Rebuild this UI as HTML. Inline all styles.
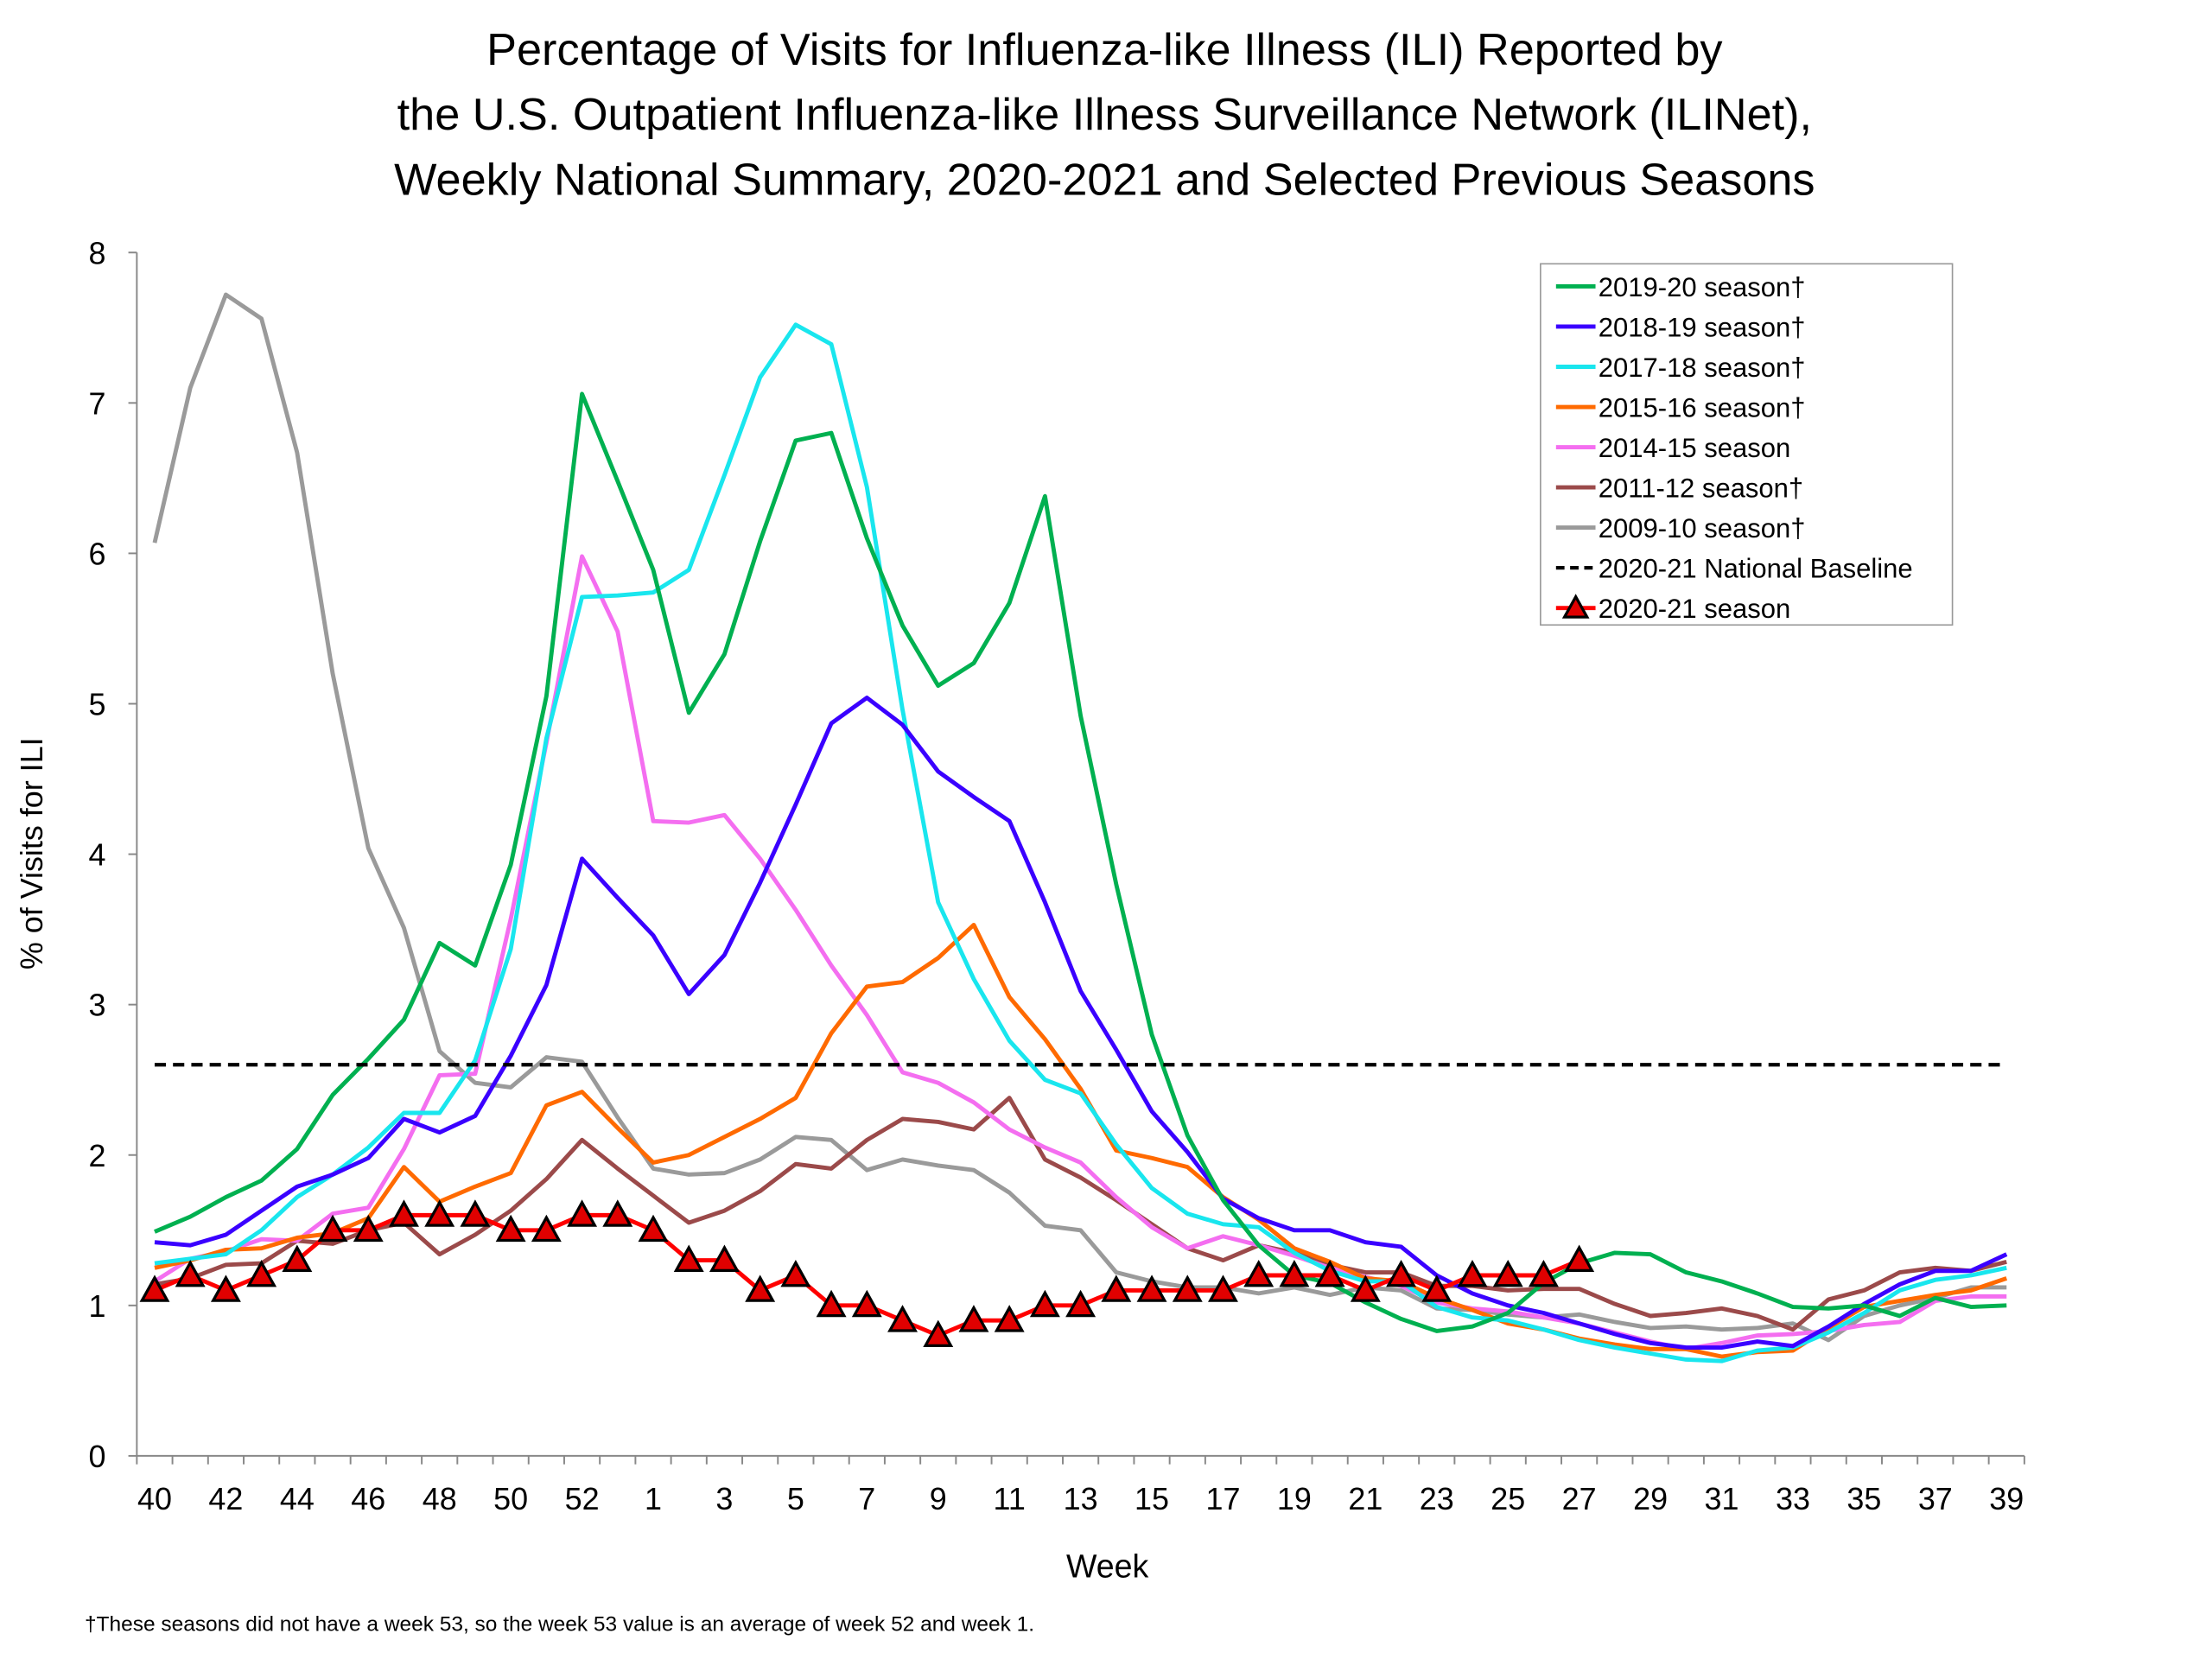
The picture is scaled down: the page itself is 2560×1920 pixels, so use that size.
<!DOCTYPE html>
<html><head><meta charset="utf-8"><style>
html,body{margin:0;padding:0;background:#fff;}
svg{display:block;font-family:"Liberation Sans",Arial,sans-serif;}
</style></head><body>
<svg id="chart" width="2560" height="1920" viewBox="0 0 1568 1176" xmlns="http://www.w3.org/2000/svg">
<rect width="1568" height="1176" fill="#fff"/>
<g font-size="32" text-anchor="middle" fill="#000">
<text x="783" y="46">Percentage of Visits for Influenza-like Illness (ILI) Reported by</text>
<text x="783" y="92">the U.S. Outpatient Influenza-like Illness Surveillance Network (ILINet),</text>
<text x="783" y="138">Weekly National Summary, 2020-2021 and Selected Previous Seasons</text>
</g>
<g id="axes"></g>
<g id="series"></g>
<g id="legend"></g>
<text x="0" y="0" font-size="22" text-anchor="middle" transform="translate(30,605) rotate(-90)">% of Visits for ILI</text>
<text x="785" y="1118" font-size="23" text-anchor="middle">Week</text>
<text x="60" y="1156" font-size="15">†These seasons did not have a week 53, so the week 53 value is an average of week 52 and week 1.</text>
</svg>
<script>
const weeks = [40,41,42,43,44,45,46,47,48,49,50,51,52,53,1,2,3,4,5,6,7,8,9,10,11,12,13,14,15,16,17,18,19,20,21,22,23,24,25,26,27,28,29,30,31,32,33,34,35,36,37,38,39];
const yTicks = [0,1,2,3,4,5,6,7,8];
const baseline = 2.6;
const s1920 = [1.49,1.59,1.72,1.83,2.04,2.4,2.64,2.9,3.41,3.26,3.93,5.05,7.06,6.48,5.89,4.94,5.33,6.08,6.75,6.8,6.1,5.52,5.12,5.27,5.67,6.38,4.92,3.8,2.8,2.13,1.7,1.4,1.2,1.15,1.02,0.91,0.83,0.86,0.95,1.15,1.28,1.35,1.34,1.22,1.16,1.08,0.99,0.98,1.0,0.93,1.05,0.99,1.0];
const s1819 = [1.42,1.40,1.47,1.63,1.79,1.87,1.98,2.24,2.15,2.26,2.66,3.13,3.97,3.71,3.46,3.07,3.33,3.81,4.33,4.87,5.04,4.86,4.55,4.38,4.22,3.68,3.09,2.7,2.29,2.02,1.71,1.58,1.5,1.5,1.42,1.39,1.2,1.08,1.0,0.95,0.88,0.81,0.75,0.72,0.72,0.76,0.73,0.86,1.01,1.14,1.23,1.23,1.34];
const s1718 = [1.28,1.31,1.34,1.5,1.72,1.87,2.05,2.28,2.28,2.63,3.37,4.77,5.71,5.72,5.74,5.89,6.52,7.17,7.52,7.39,6.44,4.96,3.68,3.17,2.76,2.5,2.41,2.07,1.78,1.61,1.54,1.52,1.35,1.23,1.16,1.16,0.99,0.92,0.9,0.84,0.77,0.72,0.68,0.64,0.63,0.7,0.72,0.82,0.95,1.1,1.17,1.2,1.25];
const s1516 = [1.25,1.3,1.37,1.38,1.45,1.48,1.58,1.92,1.69,1.79,1.88,2.33,2.42,2.18,1.95,2.0,2.12,2.24,2.38,2.81,3.12,3.15,3.31,3.53,3.05,2.77,2.44,2.03,1.98,1.92,1.72,1.57,1.38,1.29,1.18,1.16,1.05,0.97,0.88,0.84,0.78,0.74,0.71,0.71,0.66,0.69,0.7,0.85,0.99,1.03,1.07,1.1,1.18];
const s1415 = [1.16,1.31,1.36,1.44,1.43,1.61,1.65,2.04,2.53,2.54,3.57,4.74,5.98,5.48,4.22,4.21,4.26,3.97,3.63,3.26,2.93,2.55,2.48,2.35,2.17,2.05,1.95,1.72,1.52,1.38,1.46,1.4,1.33,1.25,1.19,1.13,1.02,0.98,0.96,0.92,0.88,0.82,0.76,0.71,0.75,0.8,0.81,0.83,0.87,0.89,1.03,1.06,1.06];
const s1112 = [1.14,1.18,1.27,1.28,1.43,1.41,1.5,1.55,1.34,1.47,1.63,1.84,2.1,1.91,1.73,1.55,1.63,1.76,1.94,1.91,2.1,2.24,2.22,2.17,2.38,1.97,1.85,1.7,1.54,1.38,1.3,1.4,1.35,1.27,1.22,1.22,1.13,1.13,1.1,1.11,1.11,1.01,0.93,0.95,0.98,0.93,0.84,1.04,1.1,1.22,1.25,1.23,1.29];
const s0910 = [6.07,7.1,7.72,7.56,6.67,5.2,4.04,3.51,2.69,2.48,2.45,2.65,2.62,2.25,1.91,1.87,1.88,1.97,2.12,2.1,1.9,1.97,1.93,1.9,1.75,1.53,1.5,1.22,1.16,1.12,1.12,1.08,1.12,1.07,1.12,1.1,0.98,0.97,0.94,0.92,0.94,0.89,0.85,0.86,0.84,0.85,0.88,0.77,0.93,1.0,1.05,1.12,1.12];
const s2021 = [1.1,1.2,1.1,1.2,1.3,1.5,1.5,1.6,1.6,1.6,1.5,1.5,1.6,1.6,1.5,1.3,1.3,1.1,1.2,1.0,1.0,0.9,0.8,0.9,0.9,1.0,1.0,1.1,1.1,1.1,1.1,1.2,1.2,1.2,1.1,1.2,1.1,1.2,1.2,1.2,1.3];

const NS='http://www.w3.org/2000/svg';
const L=97,R=1435,T=179,B=1032;
const xs=i=>L+(i+0.5)*(R-L)/weeks.length;
const ys=v=>B-v*(B-T)/8;
function mk(tag,attrs,parent){const e=document.createElementNS(NS,tag);for(const k in attrs)e.setAttribute(k,attrs[k]);parent.appendChild(e);return e;}
const axes=document.getElementById('axes');
const ax=mk('line',{x1:L,y1:T,x2:L,y2:B,stroke:'#888','stroke-width':1.2},axes);


const bx=mk('line',{x1:L,y1:B,x2:R,y2:B,stroke:'#888','stroke-width':1.2},axes);


yTicks.forEach(v=>{
  mk('line',{x1:L-6,y1:ys(v),x2:L,y2:ys(v),stroke:'#888','stroke-width':1.2},axes);
  const t=mk('text',{x:L-22,y:ys(v)+8,'font-size':22,'text-anchor':'end'},axes);
  t.textContent=v;
  
  
});
for(let i=0;i<=weeks.length;i++){
  const x=L+i*(R-L)/weeks.length;
  mk('line',{x1:x,y1:B,x2:x,y2:B+6,stroke:'#888','stroke-width':1.2},axes);
}
weeks.forEach((w,i)=>{
  if(i%2===0){
    const t=mk('text',{x:xs(i),y:1070,'font-size':22,'text-anchor':'middle'},axes);
    t.textContent=w;
    
    
  }
});
const ser=document.getElementById('series');
const defs=[
 [s0910,'#9a9a9a','season-2009-10','2009-10 season†'],
 [s1112,'#9b4a4a','season-2011-12','2011-12 season†'],
 [s1415,'#f46ef0','season-2014-15','2014-15 season'],
 [s1516,'#ff6a00','season-2015-16','2015-16 season†'],
 [s1718,'#19e6ee','season-2017-18','2017-18 season†'],
 [s1819,'#3a00ff','season-2018-19','2018-19 season†'],
 [s1920,'#00b050','season-2019-20','2019-20 season†']
];
defs.forEach(d=>{
  const p=mk('polyline',{points:d[0].map((v,i)=>xs(i)+','+ys(v)).join(' '),fill:'none',stroke:d[1],'stroke-width':3,'stroke-linejoin':'round'},ser);
  
  
});
const bl=mk('line',{x1:xs(0),y1:ys(baseline),x2:xs(weeks.length-1),y2:ys(baseline),stroke:'#000','stroke-width':2.6,'stroke-dasharray':'8,5'},ser);


const rl=mk('polyline',{points:s2021.map((v,i)=>xs(i)+','+ys(v)).join(' '),fill:'none',stroke:'#ff0000','stroke-width':3},ser);


const tri=(x,y,h)=>`${x},${y-h} ${x+h},${y+h*0.8} ${x-h},${y+h*0.8}`;
s2021.forEach((v,i)=>{
  const m=mk('polygon',{points:tri(xs(i),ys(v),9),fill:'#e00000',stroke:'#000','stroke-width':2},ser);
  
  
});
const lg=document.getElementById('legend');
const box=mk('rect',{x:1092,y:187,width:292,height:256,fill:'#fff',stroke:'#999','stroke-width':1},lg);


const order=[defs[6],defs[5],defs[4],defs[3],defs[2],defs[1],defs[0]];
order.forEach((d,k)=>{
  const y=203+k*28.5;
  mk('line',{x1:1103,y1:y,x2:1131,y2:y,stroke:d[1],'stroke-width':3},lg);
  const t=mk('text',{x:1133,y:y+7,'font-size':19},lg);
  t.textContent=d[3];
  
  
});
let y=203+7*28.5;
mk('line',{x1:1103,y1:y,x2:1131,y2:y,stroke:'#000','stroke-width':2.6,'stroke-dasharray':'6,4'},lg);
let t=mk('text',{x:1133,y:y+7,'font-size':19},lg);t.textContent='2020-21 National Baseline';


y=203+8*28.5;
mk('line',{x1:1103,y1:y,x2:1131,y2:y,stroke:'#ff0000','stroke-width':3},lg);
mk('polygon',{points:tri(1117,y,8),fill:'#e00000',stroke:'#000','stroke-width':2},lg);
t=mk('text',{x:1133,y:y+7,'font-size':19},lg);t.textContent='2020-21 season';


</script>
</body></html>
